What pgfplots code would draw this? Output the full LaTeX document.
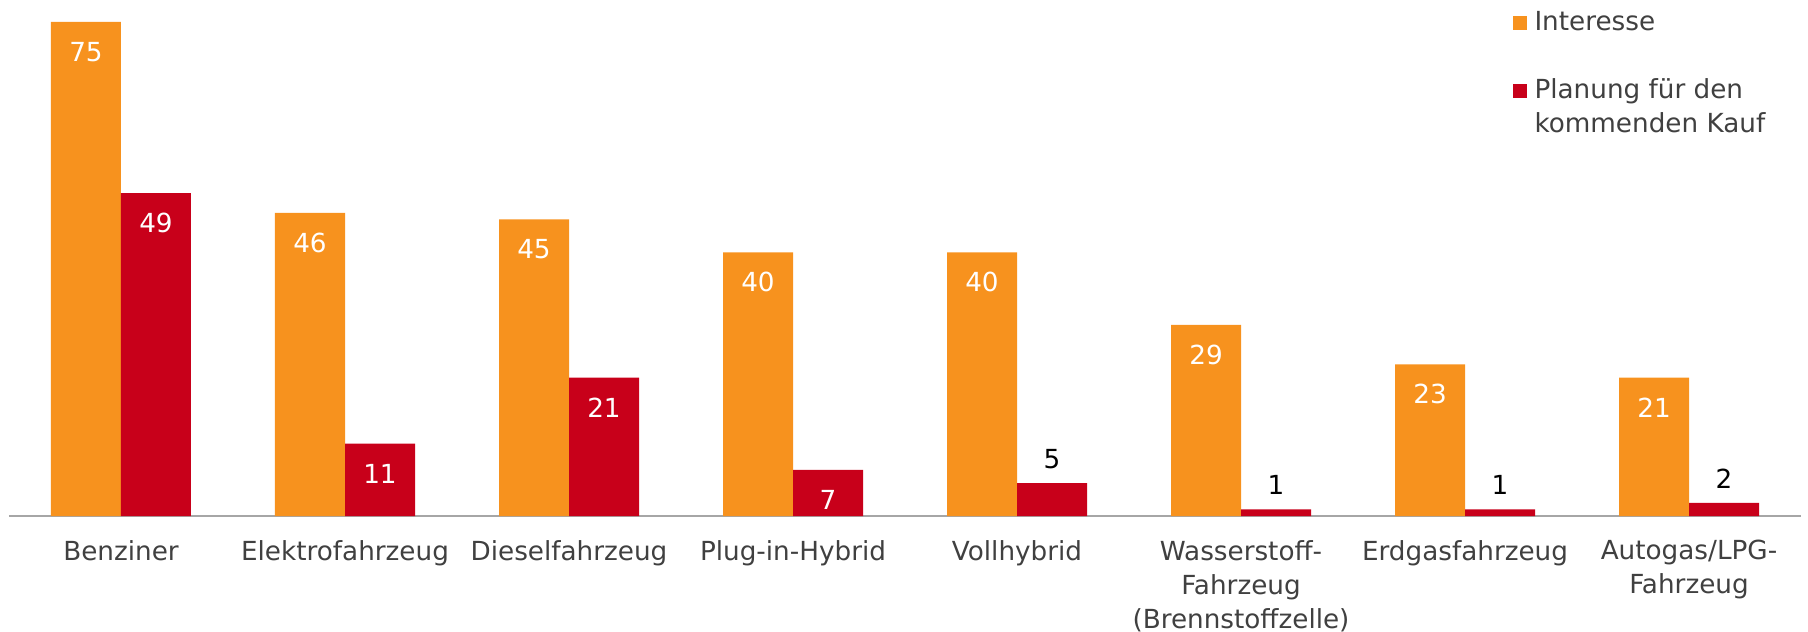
\documentclass[border=0pt]{standalone}
\usepackage{pgfplots}
\pgfplotsset{compat=1.18}
\usepackage{fontspec}
\setmainfont{DejaVu Sans}
\definecolor{cOrange}{HTML}{F7921E}
\definecolor{cRed}{HTML}{C8001A}
\definecolor{cText}{HTML}{404040}
\definecolor{cAxis}{HTML}{A6A6A6}
\begin{document}
\begin{tikzpicture}
\begin{axis}[
  scale only axis,
  width=716.8pt, height=206.4pt,
  xmin=-0.5, xmax=7.5, ymin=0, ymax=78.3,
  axis x line*=bottom, axis y line=none,
  x axis line style={draw=cAxis, line width=0.7pt},
  xtick={0,...,7},
  major tick length=0pt,
  /pgf/number format/assume math mode=true,
  xticklabels={Benziner,Elektrofahrzeug,Dieselfahrzeug,Plug-in-Hybrid,Vollhybrid,{Wasserstoff-\\Fahrzeug\\(Brennstoffzelle)},Erdgasfahrzeug,{Autogas/LPG-\\Fahrzeug}},
  xticklabel style={align=center, inner sep=0pt, yshift=-9.5pt, text=cText, font=\fontsize{10.5}{13.6}\selectfont},
  clip=false,
  legend cell align=left,
  legend style={draw=none, fill=none, at={(axis description cs:0.839,0.981)}, anchor=north west,
    inner sep=0pt, row sep=3.2pt, column sep=3pt,
    nodes={inner sep=0pt, text height=8pt, text depth=2.4pt, text=cText, font=\fontsize{10.5}{13.6}\selectfont}},
  legend image code/.code={\fill[#1] (0pt,-2.8pt) rectangle (5.6pt,2.8pt);},
]
\addplot[ybar, bar width=28pt, bar shift=-14pt, fill=cOrange, draw=none,
  nodes near coords, every node near coord/.append style={anchor=center, xshift=-14pt, yshift=-12pt, text=white, font=\fontsize{10.5}{12}\selectfont}, forget plot]
  coordinates {(0,75) (1,46) (2,45) (3,40) (4,40) (5,29) (6,23) (7,21)};
\addplot[ybar, bar width=28pt, bar shift=14pt, fill=cRed, draw=none,
  nodes near coords, every node near coord/.append style={anchor=center, xshift=14pt, yshift=-12pt, text=white, font=\fontsize{10.5}{12}\selectfont}, forget plot]
  coordinates {(0,49) (1,11) (2,21) (3,7)};
\addplot[ybar, bar width=28pt, bar shift=14pt, fill=cRed, draw=none,
  nodes near coords, every node near coord/.append style={anchor=center, xshift=14pt, yshift=9.6pt, text=black, font=\fontsize{10.5}{12}\selectfont}, forget plot]
  coordinates {(4,5) (5,1) (6,1) (7,2)};
\addlegendimage{fill=cOrange, draw=none}
\addlegendentry{Interesse}
\addlegendimage{empty legend}
\addlegendentry{}
\addlegendimage{fill=cRed, draw=none}
\addlegendentry{Planung für den}
\addlegendimage{empty legend}
\addlegendentry{kommenden Kauf}
\coordinate (bl) at (axis cs:-0.5,0);
\end{axis}
\pgfresetboundingbox
\path[use as bounding box] (bl) ++(-3.6pt,-46pt) rectangle ++(723.2pt,252.4pt);
\end{tikzpicture}
\end{document}
